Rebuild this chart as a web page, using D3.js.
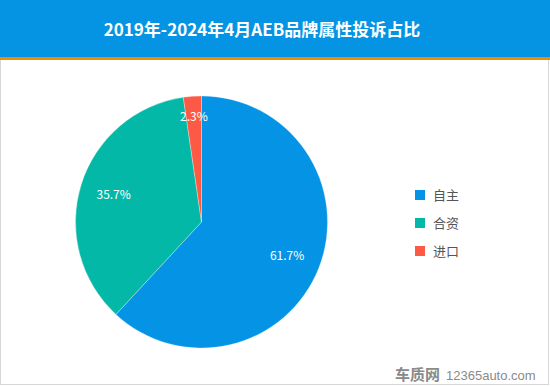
<!DOCTYPE html>
<html><head><meta charset="utf-8">
<script src="https://cdn.jsdelivr.net/npm/d3@7"></script>
<style>body{margin:0;padding:0;background:#fff}svg{display:block}</style>
</head><body>
<svg id="c" width="550" height="386"></svg>
<script>
const title = "2019年-2024年4月AEB品牌属性投诉占比";
const categories = ["自主", "合资", "进口"];
const values = [61.7, 35.7, 2.3];
const colors = ["#0593E5", "#03B8A6", "#FC5A45"];

const svg = d3.select("#c");
const W = 550, H = 386;
const font = "'Noto Sans CJK SC','Microsoft YaHei',sans-serif";

svg.append("rect").attr("x",0.5).attr("y",0.5).attr("width",W-2).attr("height",H-2)
  .attr("fill","#fff").attr("stroke","#d6d6d6");
svg.append("rect").attr("x",0).attr("y",0).attr("width",W).attr("height",57).attr("fill","#0594E4");
svg.append("rect").attr("x",0).attr("y",57).attr("width",W).attr("height",3).attr("fill","#F08A00");
svg.append("text").attr("x",262).attr("y",36).attr("text-anchor","middle")
  .attr("fill","#fff").attr("font-family",font).attr("font-size",17).attr("font-weight","bold")
  .text(title);

const cx = 201.5, cy = 222, r = 126;
const color = d3.scaleOrdinal().domain(categories).range(colors);
const pie = d3.pie().sort(null).value(d => d.v);
const data = pie(categories.map((c,i)=>({c, v: values[i]})));
const arc = d3.arc().innerRadius(0).outerRadius(r);
const g = svg.append("g").attr("transform",`translate(${cx},${cy})`);
g.selectAll("path").data(data).enter().append("path")
  .attr("d",arc).attr("fill",d=>color(d.data.c)).attr("stroke","#fff").attr("stroke-width",0.3);

const total = d3.sum(values);
g.selectAll("text.lbl").data(data).enter().append("text")
  .attr("class","lbl")
  .attr("transform",d=>{
    const lr = d.data.v/total < 0.05 ? r*0.84 : r*0.73;
    const a = (d.startAngle+d.endAngle)/2;
    return `translate(${lr*Math.sin(a)},${-lr*Math.cos(a)})`;
  })
  .attr("dy","0.35em").attr("text-anchor","middle")
  .attr("fill","#fff").attr("font-family",font).attr("font-size",12)
  .text(d=>d.data.v.toFixed(1)+"%");

const lg = svg.append("g").attr("transform","translate(415,190)");
const items = lg.selectAll("g").data(categories).enter().append("g")
  .attr("transform",(d,i)=>`translate(0,${i*28})`);
items.append("rect").attr("width",10).attr("height",10).attr("fill",d=>color(d));
items.append("text").attr("x",18).attr("y",5).attr("dy","0.35em")
  .attr("fill","#555").attr("font-family",font).attr("font-size",13).text(d=>d);

// watermark
svg.append("text").attr("x",395).attr("y",380).attr("fill","#8a8a8a")
  .attr("font-family",font).attr("font-size",15).attr("font-weight","bold").text("车质网");
svg.append("text").attr("x",446).attr("y",380).attr("fill","#8a8a8a")
  .attr("font-family","'Liberation Sans',Arial,sans-serif").attr("font-size",13).text("12365auto.com");
</script>
</body></html>
